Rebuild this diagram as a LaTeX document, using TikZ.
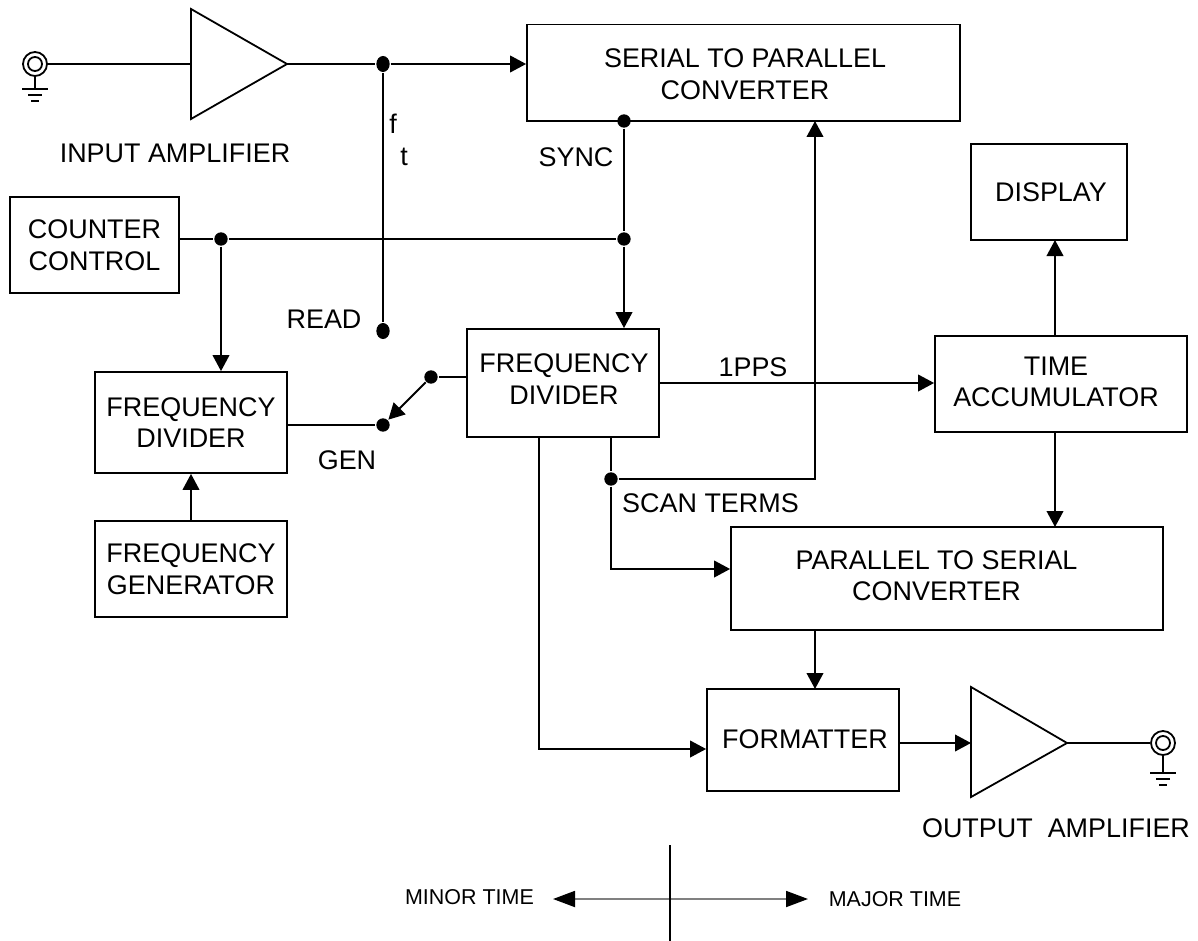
\documentclass[tikz,border=0pt]{standalone}
\usepackage{fontspec}
\setmainfont{Liberation Sans}
\usetikzlibrary{arrows.meta,positioning,shapes.geometric}
\tikzset{
  box/.style 2 args={draw,rectangle,inner sep=0pt,align=center,minimum width=#1*0.75pt,minimum height=#2*0.75pt},
  txt/.style={inner sep=0pt,align=center},
  small/.style={inner sep=0pt,font=\fontsize{16.1}{18}\selectfont},
  jdot/.style={circle,fill=black,inner sep=0pt,minimum size=10pt},
  tdot/.style={ellipse,fill=black,inner sep=0pt,minimum width=10pt,minimum height=12pt},
  wire/.style={-{Triangle[length=12pt,width=12.5pt]}},
}
\begin{document}
\begin{tikzpicture}[x=0.75pt,y=-0.75pt,line width=1.35pt,font=\fontsize{20.2}{23.6}\selectfont]
  \useasboundingbox (0,0) rectangle (1198,941);
  % blocks
  \node[box={433}{96.5}] (serial) at (743.5,72.75) {};
  \node[txt] (serialtxt) at (745,74) {SERIAL TO PARALLEL\\CONVERTER};
  \node[box={156}{96}] (display) at (1049,192) {};
  \node[txt] (displaytxt) at (1051,192) {DISPLAY};
  \node[box={169}{96}] (counter) at (94.5,245) {COUNTER\\CONTROL};
  \node[box={192}{108}] (divmid) at (563,383) {};
  \node[txt] (divmidtxt) at (564,379) {FREQUENCY\\DIVIDER};
  \node[box={192}{101}] (divleft) at (191,422.5) {FREQUENCY\\DIVIDER};
  \node[box={192}{96}] (gener) at (191,569) {FREQUENCY\\GENERATOR};
  \node[box={252}{96}] (accum) at (1061,384) {};
  \node[txt] (accumtxt) at (1056,382) {TIME\\ACCUMULATOR};
  \node[box={432}{103}] (parallel) at (947,578.5) {};
  \node[txt] (paralleltxt) at (936.5,575.5) {PARALLEL TO SERIAL\\CONVERTER};
  \node[box={192}{102}] (format) at (803,740) {};
  \node[txt] (formattxt) at (805,739) {FORMATTER};
  % amplifiers
  \draw (191,9) -- (287,64) -- (191,119) -- cycle;
  \draw (971,687) -- (1067,743) -- (971,797) -- cycle;
  \coordinate (inleft) at (191,64);
  \coordinate (intip) at (287,64);
  \coordinate (outleft) at (971,743);
  \coordinate (outtip) at (1067,743);
  % jacks
  \foreach \jx/\jy/\gy/\jname in {35/64/89/injack,1163/743/773/outjack} {
    \node[circle,draw,inner sep=0pt,minimum size=18pt] (\jname) at (\jx,\jy) {};
    \draw (\jx,\jy) circle (7);
    \draw (\jname.south) -- (\jx,\gy);
    \draw (\jx-13,\gy) -- (\jx+13,\gy);
    \draw (\jx-7,\gy+6) -- (\jx+7,\gy+6);
    \draw (\jx-4,\gy+12) -- (\jx+4,\gy+12);
  }
  % junctions
  \node[tdot] (jin) at (383,64) {};
  \node[tdot] (jread) at (383,331) {};
  \node[jdot] (jcount) at (221,239) {};
  \node[jdot] (jsync) at (624,239) {};
  \node[jdot] (jserial) at (624,121) {};
  \node[jdot] (jsw) at (431,377) {};
  \node[jdot] (jgen) at (383,425) {};
  \node[jdot] (jscan) at (611,479) {};
  % connectors
  \draw (injack) -- (inleft);
  \draw (intip) -- (jin);
  \draw[wire] (jin) -- (serial.west |- jin);
  \draw (jin) -- (jread);
  \draw (counter.east |- jcount) -- (jcount) -- (jsync);
  \draw[wire] (jcount) -- (jcount |- divleft.north);
  \draw (jserial) -- (jsync);
  \draw[wire] (jsync) -- (jsync |- divmid.north);
  \draw (divmid.west |- jsw) -- (jsw);
  \draw[wire] (jsw) -- (jgen);
  \draw (divleft.east |- jgen) -- (jgen);
  \draw[wire] (gener.north) -- (divleft.south);
  \draw[wire] (divmid.east) -- (accum.west |- divmid.east);
  \draw (jscan |- divmid.south) -- (jscan);
  \draw[wire] (jscan) -- (611,569) -- (parallel.west |- 0,569);
  \draw[wire] (jscan) -- (815,479) -- (815,121);
  \draw[wire] (539,437) -- (539,749) -- (format.west |- 0,749);
  \draw[wire] (accum.north -| 1055,0) -- (1055,240);
  \draw[wire] (accum.south -| 1055,0) -- (1055,527);
  \draw[wire] (parallel.south -| 815,0) -- (815,689);
  \draw[wire] (format.east |- outleft) -- (outleft);
  \draw (outtip) -- (outjack);
  % labels
  \node[txt] (inamp) at (175,153) {INPUT AMPLIFIER};
  \node[txt] (lblf) at (393,124) {f};
  \node[txt] (lblt) at (404,157) {t};
  \node[txt] (lblsync) at (576,157.5) {SYNC};
  \node[txt] (lblread) at (324,319) {READ};
  \node[txt] (lblgen) at (347,460) {GEN};
  \node[txt] (lblpps) at (753,367) {1PPS};
  \node[txt] (lblscan) at (710.5,503) {SCAN TERMS};
  \node[txt] (outamp) at (1056,828) {OUTPUT\ \ AMPLIFIER};
  % time axis
  \coordinate (axtop) at (670,845);
  \coordinate (axbot) at (670,941);
  \coordinate (axleft) at (553,899);
  \coordinate (axright) at (808,899);
  \draw[gray,{Triangle[length=16.5pt,width=12pt,black]}-{Triangle[length=16.5pt,width=12pt,black]}] (axleft) -- (axright);
  \draw (axtop) -- (axbot);
  \node[small] (minor) at (469.5,897) {MINOR TIME};
  \node[small] (major) at (895,899) {MAJOR TIME};
\end{tikzpicture}
\end{document}
